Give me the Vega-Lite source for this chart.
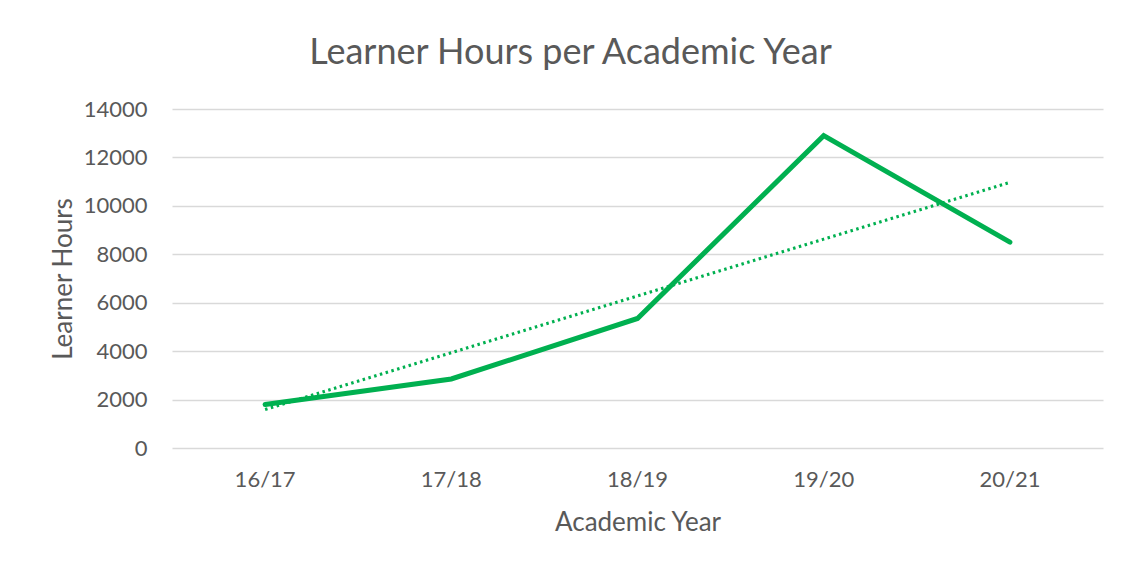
{
  "$schema": "https://vega.github.io/schema/vega-lite/v6.json",
  "autosize": {"type": "none"},
  "width": 931,
  "height": 339,
  "padding": {"left": 172, "top": 109, "right": 21, "bottom": 116},
  "background": "#ffffff",
  "title": {
    "text": "Learner Hours per Academic Year",
    "font": "Lato",
    "fontSize": 36,
    "fontWeight": "normal",
    "color": "#595959",
    "anchor": "middle",
    "offset": 26,
    "dx": -67
  },
  "data": {
    "values": [
      {"year": "16/17", "hours": 1800, "trend": 1590},
      {"year": "17/18", "hours": 2850, "trend": 3935},
      {"year": "18/19", "hours": 5350, "trend": 6280},
      {"year": "19/20", "hours": 12900, "trend": 8625},
      {"year": "20/21", "hours": 8500, "trend": 10970}
    ]
  },
  "encoding": {
    "x": {
      "field": "year",
      "type": "ordinal",
      "scale": {"type": "band", "paddingInner": 0, "paddingOuter": 0},
      "axis": {
        "title": "Academic Year",
        "labelAngle": 0,
        "domain": false,
        "ticks": false,
        "grid": false,
        "labelPadding": 21,
        "titlePadding": 19
      }
    }
  },
  "layer": [
    {
      "mark": {"type": "line", "color": "#00B050", "strokeWidth": 3, "strokeDash": [2.5, 3.5], "strokeCap": "butt"},
      "encoding": {
        "y": {"field": "trend", "type": "quantitative"}
      }
    },
    {
      "mark": {"type": "line", "color": "#00B050", "strokeWidth": 5, "strokeCap": "round", "strokeJoin": "miter"},
      "encoding": {
        "y": {
          "field": "hours",
          "type": "quantitative",
          "scale": {"domain": [0, 14000], "nice": false},
          "axis": {
            "title": "Learner Hours",
            "values": [0, 2000, 4000, 6000, 8000, 10000, 12000, 14000],
            "format": "d",
            "domain": false,
            "ticks": false,
            "labelPadding": 25,
            "titlePadding": 7
          }
        }
      }
    }
  ],
  "config": {
    "view": {"stroke": null},
    "axis": {
      "labelFont": "Lato",
      "labelFontSize": 22,
      "labelColor": "#595959",
      "titleFont": "Lato",
      "titleFontSize": 26,
      "titleFontWeight": "normal",
      "titleColor": "#595959",
      "gridColor": "#d9d9d9",
      "gridWidth": 1.5
    }
  }
}
